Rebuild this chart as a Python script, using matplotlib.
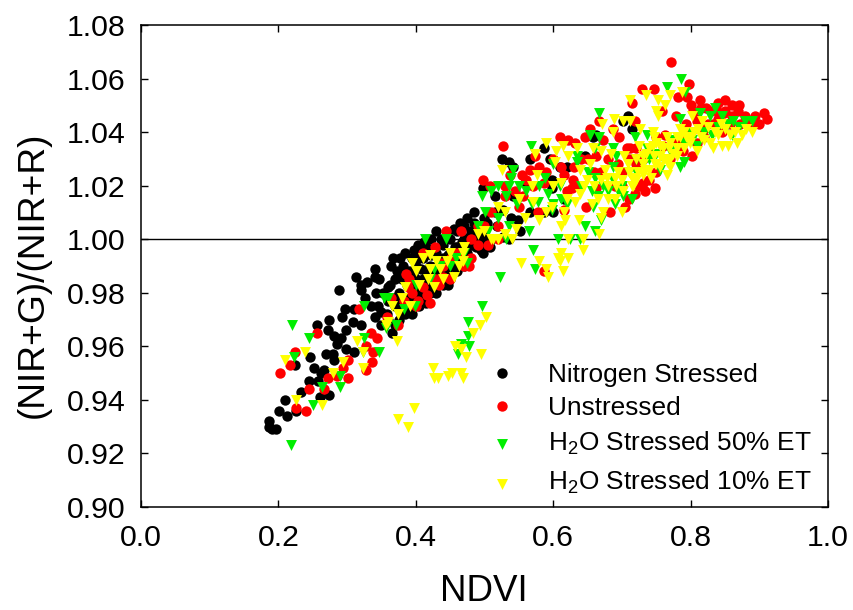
import matplotlib
matplotlib.use("Agg")
import matplotlib.pyplot as plt

plt.rcParams['font.family'] = ['Liberation Sans', 'DejaVu Sans']
plt.rcParams['mathtext.fontset'] = 'custom'
plt.rcParams['mathtext.rm'] = 'Liberation Sans'
plt.rcParams['mathtext.default'] = 'regular'

nitrogen = [
(.187,.932),(.187,.930),(.190,.929),(.197,.929),(.201,.936),(.212,.934),(.210,.940),(.226,.936),(.233,.943),
(.245,.947),(.257,.947),(.252,.952),(.266,.951),(.262,.950),(.274,.942),(.260,.941),(.269,.957),(.279,.957),
(.281,.955),(.298,.959),(.310,.958),(.246,.956),(.224,.953),(.256,.968),(.274,.970),(.272,.966),(.281,.964),
(.291,.963),(.286,.961),(.298,.966),(.293,.971),(.297,.974),(.310,.974),(.308,.969),(.320,.968),(.288,.981),
(.313,.986),(.320,.983),(.329,.984),(.320,.981),(.341,.989),(.340,.986),(.347,.985),(.342,.980),(.326,.978),
(.335,.975),(.340,.971),(.349,.973),(.359,.977),(.364,.990),(.367,.993),(.360,.982),(.370,.985),(.375,.980),
(.380,.985),(.385,.978),(.390,.982),(.390,.988),(.395,.993),(.400,.985),(.400,.990),(.405,.980),(.410,.985),
(.410,.993),(.415,.997),(.420,.990),(.420,.985),(.425,.982),(.430,.995),(.430,.990),(.435,.986),(.440,.998),
(.440,.993),(.445,.988),(.450,1.000),(.450,.995),(.455,.990),(.460,1.003),(.460,.997),(.465,.993),(.470,1.005),
(.470,1.000),(.475,.995),(.480,1.003),(.480,.998),(.485,1.006),(.490,1.000),(.490,1.005),(.495,.996),(.500,1.008),
(.500,1.002),(.510,1.000),(.370,.975),(.380,.973),(.390,.975),(.350,.968),(.360,.970),(.370,.968),(.365,.965),
(.375,.970),(.385,.972),(.400,.978),(.410,.978),(.420,.980),(.403,.998),(.429,1.003),(.447,.983),(.525,1.030),
(.535,1.029),(.542,1.027),(.566,1.030),(.586,1.034),(.595,1.030),(.620,1.027),(.598,1.022),(.598,1.019),(.559,1.021),
(.542,1.016),(.515,1.016),(.515,1.010),(.527,1.011),(.539,1.008),(.549,1.007),(.552,1.003),(.503,1.006),(.518,1.005),
(.527,1.001),(.535,1.000),(.498,.995),(.508,.997),(.566,1.010),(.586,1.010),(.600,1.010),(.615,1.015),(.663,1.039),
(.646,1.031),(.709,1.046),(.702,1.044),(.714,1.041),(.658,1.038),(.610,1.027),(.498,1.019),
(.345,.975),(.352,.980),(.358,.972),(.363,.983),(.368,.978),(.372,.988),(.378,.976),(.382,.990),(.387,.983),(.392,.978),
(.397,.986),(.402,.982),(.407,.989),(.412,.982),(.417,.987),(.422,.994),(.427,.988),(.432,.984),(.437,.992),(.442,.988),
(.447,.994),(.452,.991),(.457,.997),(.462,.994),(.467,.999),(.472,.997),(.477,1.001),(.482,1.000),(.487,.997),(.492,1.003),
(.497,1.000),(.502,.998),(.377,.993),(.384,.995),(.392,.985),(.398,.996),(.405,.993),(.412,.999),(.422,1.000),(.436,1.000),
(.445,1.002),(.455,1.004),(.465,1.006),(.475,1.008),(.485,1.010),(.470,.990),(.460,.988),(.450,.985),(.440,.983),(.430,.980),
(.415,.976),(.395,.972),(.405,.975),
]
unstressed = [
(.202,.950),(.217,.953),(.224,.958),(.256,.965),(.318,.974),(.226,.937),(.240,.936),(.245,.944),(.267,.944),
(.272,.948),(.286,.949),(.301,.948),(.294,.952),(.301,.955),(.328,.951),(.336,.954),(.337,.958),(.328,.960),
(.335,.965),(.344,.963),(.374,.968),(.358,.971),(.386,.987),(.388,.982),(.395,.980),(.383,.977),(.364,.978),
(.403,.977),(.417,.979),(.437,.991),(.439,.986),(.410,.995),(.428,.997),(.444,1.003),(.466,1.003),(.490,.998),
(.480,.993),(.434,.983),(.451,.993),(.478,.990),(.505,.998),(.527,1.035),(.498,1.022),(.508,1.020),(.530,1.016),
(.537,1.024),(.554,1.024),(.566,1.026),(.580,1.027),(.573,1.031),(.556,1.016),(.578,1.010),(.586,.988),(.610,1.038),
(.622,1.037),(.632,1.036),(.612,1.027),(.615,1.024),(.629,1.022),(.586,1.021),(.615,1.011),(.627,1.019),(.648,1.012),
(.683,1.010),(.704,1.012),(.663,1.031),(.646,1.038),(.653,1.041),(.667,1.044),(.687,1.041),(.696,1.038),(.673,1.037),
(.707,1.034),(.719,1.044),(.714,1.051),(.729,1.056),(.746,1.056),(.771,1.066),(.797,1.058),(.782,1.053),(.795,1.053),
(.813,1.052),(.758,1.048),(.779,1.046),(.719,1.017),(.734,1.018),(.748,1.019),(.731,1.021),(.712,1.034),(.721,1.034),
(.695,1.028),(.663,1.019),(.639,1.020),(.802,1.031),(.789,1.033),(.750,1.038),(.763,1.039),(.794,1.043),(.809,1.044),
(.823,1.049),(.840,1.051),(.850,1.052),(.860,1.050),(.869,1.048),(.879,1.046),(.894,1.046),(.907,1.047),(.911,1.045),
(.899,1.043),(.848,1.047),(.833,1.043),(.804,1.048),(.819,1.041),(.857,1.043),(.872,1.043),(.809,1.036),(.838,1.048),
(.390,.985),(.400,.975),(.410,.982),(.420,.976),(.430,.985),(.440,.990),(.450,.985),(.460,.995),(.470,.990),(.480,1.000),
(.490,1.005),(.500,1.005),(.510,1.010),(.520,1.000),(.520,1.005),(.530,1.020),(.545,1.018),(.550,1.012),(.560,1.022),(.570,1.020),
(.590,1.025),(.600,1.030),(.700,1.025),(.710,1.030),(.720,1.028),(.730,1.030),(.740,1.032),(.750,1.025),(.760,1.035),(.770,1.030),
(.780,1.036),(.790,1.038),(.800,1.040),(.810,1.045),(.820,1.038),(.830,1.048),(.840,1.045),(.850,1.048),(.860,1.046),(.870,1.050),
(.880,1.045),(.890,1.043),(.845,1.040),(.825,1.043),(.815,1.049),(.800,1.050),(.660,1.025),(.670,1.025),(.680,1.030),(.690,1.020),
(.650,1.030),(.640,1.030),(.630,1.027),(.620,1.018),(.700,1.020),(.710,1.015),(.725,1.020),(.740,1.022),
]
stressed_50 = [
(.220,.968),(.245,.963),(.222,.956),(.218,.923),(.250,.938),(.263,.945),(.289,.945),(.290,.949),(.324,.975),(.325,.963),
(.323,.958),(.346,.958),(.353,.978),(.357,.967),(.371,.968),(.383,.974),(.399,.975),(.413,1.000),(.444,1.000),(.427,.989),
(.459,.993),(.475,.991),(.497,.975),(.476,.969),(.476,.964),(.466,.961),(.478,.960),(.461,.957),(.505,1.003),(.522,.986),
(.573,.989),(.570,.996),(.607,1.000),(.624,1.000),(.639,1.000),(.565,1.003),(.532,1.000),(.535,1.005),(.646,1.005),
(.661,1.003),(.669,1.007),(.598,1.011),(.620,1.013),(.612,1.015),(.658,1.012),(.690,1.013),(.702,1.016),(.656,1.018),
(.501,1.010),(.547,1.013),(.569,1.013),(.578,1.014),(.593,1.017),(.588,1.023),(.542,1.026),(.539,1.023),(.510,1.018),
(.535,1.020),(.531,1.016),(.496,1.016),(.561,1.018),(.568,1.035),(.600,1.028),(.634,1.029),(.634,1.031),(.653,1.039),
(.667,1.038),(.667,1.047),(.661,1.034),(.687,1.034),(.691,1.031),(.687,1.027),(.661,1.023),(.687,1.022),(.673,1.020),
(.719,1.038),(.736,1.039),(.765,1.057),(.786,1.060),(.792,1.055),(.785,1.045),(.814,1.047),(.828,1.046),(.835,1.049),
(.862,1.044),(.855,1.043),(.879,1.044),(.889,1.044),(.860,1.039),(.784,1.027),(.790,1.029),(.755,1.026),(.736,1.034),
(.772,1.037),(.802,1.037),(.831,1.039),
(.700,1.020),(.710,1.025),(.720,1.025),(.730,1.028),(.740,1.030),(.750,1.032),(.760,1.030),(.770,1.033),(.780,1.034),(.790,1.036),
(.800,1.040),(.810,1.035),(.820,1.040),(.840,1.042),(.870,1.042),(.845,1.046),(.640,1.020),(.650,1.025),(.665,1.016),(.680,1.018),
(.695,1.018),(.715,1.015),(.720,1.030),(.600,1.013),(.610,1.020),(.520,1.008),(.550,1.020),(.580,1.020),(.360,.978),(.400,.983),
(.420,.985),(.435,.990),(.450,.990),(.470,.995),(.490,1.005),(.520,1.020),
]
stressed_10 = [
(.210,.955),(.239,.958),(.226,.940),(.264,.938),(.280,.950),(.294,.954),(.323,.952),(.323,.958),(.314,.962),(.372,.962),
(.359,.969),(.357,.968),(.366,.975),(.374,.972),(.391,.975),(.405,.983),(.426,.982),(.418,.985),(.439,.985),(.455,.986),
(.435,.989),(.394,.991),(.411,.993),(.421,.994),(.463,.990),(.468,.995),(.468,.992),(.509,1.000),(.374,.933),(.389,.930),
(.398,.937),(.425,.952),(.426,.948),(.433,.948),(.447,.949),(.452,.950),(.466,.950),(.469,.948),(.457,.960),(.466,.959),
(.473,.956),(.495,.957),(.483,.965),(.494,.968),(.502,.971),(.525,1.026),(.569,1.020),(.573,1.032),(.590,1.036),(.604,1.033),
(.614,1.035),(.634,1.034),(.621,1.031),(.603,1.029),(.577,1.024),(.612,1.021),(.571,1.014),(.598,1.012),(.615,1.010),
(.580,1.007),(.559,1.008),(.546,1.004),(.530,1.002),(.512,1.000),(.530,1.010),(.638,1.007),(.617,1.007),(.611,1.005),
(.666,1.002),(.670,1.008),(.672,1.010),(.656,1.013),(.643,1.000),(.622,1.000),(.644,.996),(.622,.993),(.612,.995),
(.607,.993),(.610,.992),(.614,.988),(.580,.992),(.553,.991),(.590,.989),(.593,.986),(.712,1.052),(.735,1.054),(.752,1.052),
(.763,1.050),(.770,1.054),(.787,1.055),(.749,1.048),(.752,1.046),(.688,1.045),(.671,1.043),(.687,1.040),(.712,1.044),
(.702,1.044),(.726,1.041),(.653,1.028),(.658,1.034),(.670,1.033),(.684,1.032),(.703,1.031),(.675,1.026),(.649,1.022),
(.639,1.026),(.639,1.017),(.632,1.014),(.680,1.015),(.702,1.018),(.692,1.020),(.716,1.020),(.678,1.023),(.695,1.025),
(.709,1.028),(.724,1.025),(.714,1.023),(.731,1.031),(.725,1.035),(.746,1.038),(.745,1.035),(.755,1.035),(.746,1.031),
(.755,1.031),(.765,1.038),(.768,1.034),(.775,1.032),(.785,1.041),(.785,1.038),(.794,1.038),(.799,1.036),(.809,1.033),
(.780,1.031),(.765,1.029),(.748,1.028),(.734,1.026),(.743,1.023),(.766,1.024),(.714,1.020),(.802,1.046),(.816,1.044),
(.811,1.041),(.844,1.043),(.840,1.039),(.857,1.039),(.875,1.039),(.890,1.040),(.867,1.036),(.855,1.035),(.846,1.035),
(.832,1.034),(.819,1.037),(.828,1.036),
(.730,1.028),(.735,1.032),(.740,1.034),(.750,1.036),(.760,1.034),(.760,1.030),(.770,1.030),(.770,1.036),(.780,1.034),(.780,1.038),
(.790,1.034),(.790,1.040),(.800,1.038),(.750,1.028),(.740,1.026),(.730,1.024),(.720,1.022),(.710,1.025),(.700,1.022),(.690,1.023),
(.680,1.020),(.670,1.022),(.660,1.020),(.720,1.030),(.755,1.027),(.770,1.027),(.745,1.040),(.805,1.040),(.815,1.038),(.825,1.042),
(.835,1.040),(.850,1.041),(.865,1.040),(.880,1.041),(.430,.992),(.445,.992),(.450,.995),(.400,.988),(.380,.978),(.385,.982),
(.420,.989),(.470,.997),(.490,1.002),(.500,1.003),(.520,1.000),(.540,1.000),(.520,1.012),(.550,1.015),(.590,1.010),(.600,1.020),
(.620,1.015),(.645,1.020),(.665,1.015),(.690,1.015),(.700,1.010),
]
x_ticks = [0.0, 0.2, 0.4, 0.6, 0.8, 1.0]
y_ticks = [0.90, 0.92, 0.94, 0.96, 0.98, 1.00, 1.02, 1.04, 1.06, 1.08]
series_labels = ['Nitrogen Stressed', 'Unstressed', 'H$_2$O Stressed 50% ET', 'H$_2$O Stressed 10% ET']

fig = plt.figure(figsize=(8.54, 6.10), dpi=100)
ax = fig.add_axes([141/854, 1-507/610, 687/854, 482/610])

styles = [('o', '#000000', 56), ('o', '#ff0000', 56), ('v', '#00ee00', 62), ('v', '#ffff00', 62)]
for pts, (m, c, s) in zip([nitrogen, unstressed, stressed_50, stressed_10], styles):
    ax.scatter([p[0] for p in pts], [p[1] for p in pts], marker=m, c=c, s=s, linewidths=0, zorder=3)

ax.axhline(1.0, color='black', lw=1, zorder=2)
ax.set_xlim(0, 1)
ax.set_ylim(0.90, 1.08)
ax.set_xticks(x_ticks)
ax.set_xticklabels([f'{v:.1f}' for v in x_ticks])
ax.set_yticks(y_ticks)
ax.set_yticklabels([f'{v:.2f}' for v in y_ticks])
ax.tick_params(direction='in', length=5, width=1, top=True, right=True, labelsize=21.8)
ax.tick_params(axis='x', pad=12)
ax.tick_params(axis='y', pad=11)
for sp in ax.spines.values():
    sp.set_linewidth(1.1)
fig.text(484/854, 1-601/610, 'NDVI', fontsize=26.5, ha='center', va='baseline')
fig.text(33/854, 1-275/610, '(NIR+G)/(NIR+R)', fontsize=26.8, ha='center', va='center', rotation=90)

legend_ys = [373, 406, 444, 484]
text_ys = [375, 408, 443, 482]
for (m, c, s), label, ym, yt in zip(styles, series_labels, legend_ys, text_ys):
    ax.scatter([(502-141)/687], [(507-ym)/482], marker=m, c=c, s=s, linewidths=0,
               transform=ax.transAxes, zorder=4)
    ax.text((548-141)/687, (507-yt)/482, label, transform=ax.transAxes, fontsize=18.9,
            ha='left', va='center', zorder=5)

fig.savefig('out.png', dpi=100)
